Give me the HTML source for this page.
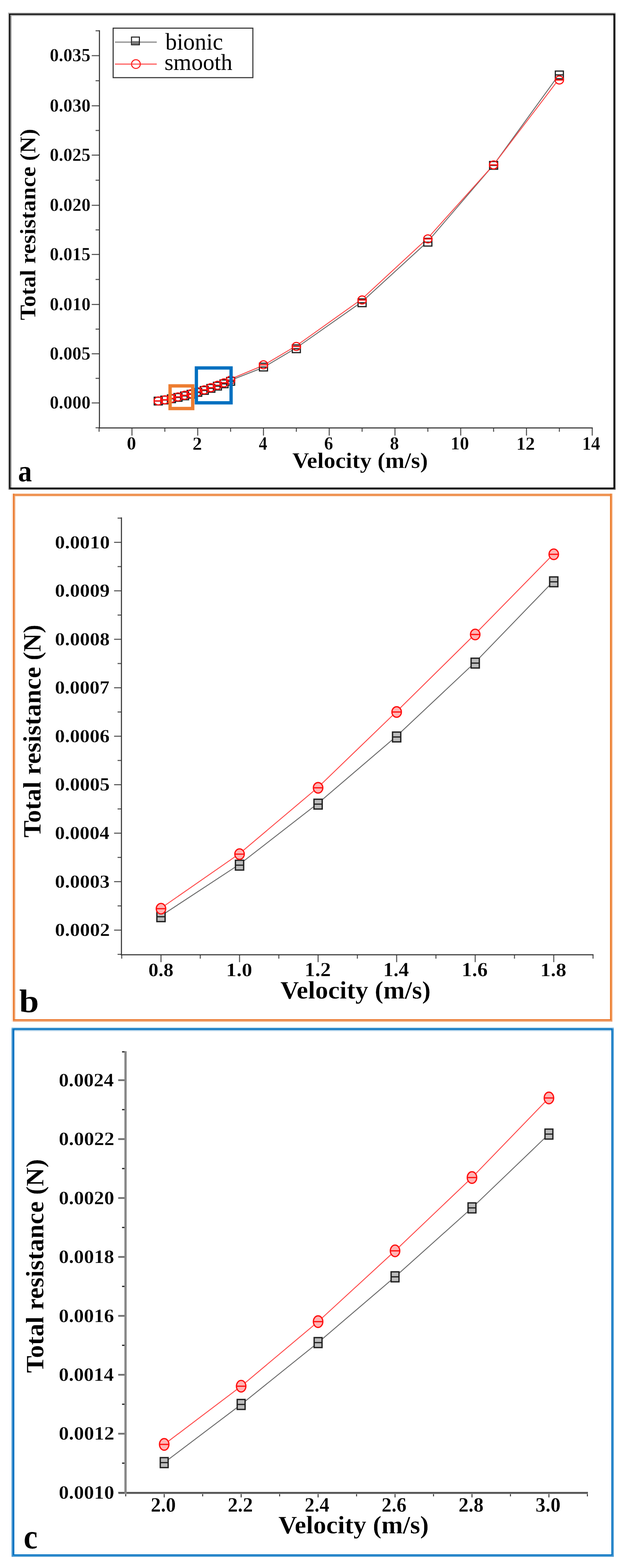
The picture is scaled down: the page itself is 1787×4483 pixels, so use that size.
<!DOCTYPE html>
<html><head><meta charset="utf-8"><title>Total resistance vs velocity</title>
<style>html,body{margin:0;padding:0;background:#fff;}svg{display:block;}</style>
</head><body><svg width="1787" height="4483" viewBox="0 0 1787 4483"><defs><mask id="gap0" maskUnits="userSpaceOnUse" x="0" y="0" width="1787" height="4483"><rect x="0" y="0" width="1787" height="4483" fill="#fff"/><rect x="441.00" y="1135.70" width="23" height="22" fill="#000"/><rect x="459.80" y="1132.69" width="23" height="22" fill="#000"/><rect x="478.60" y="1129.13" width="23" height="22" fill="#000"/><rect x="497.40" y="1125.21" width="23" height="22" fill="#000"/><rect x="516.20" y="1120.89" width="23" height="22" fill="#000"/><rect x="535.00" y="1116.15" width="23" height="22" fill="#000"/><rect x="553.80" y="1110.93" width="23" height="22" fill="#000"/><rect x="572.60" y="1105.33" width="23" height="22" fill="#000"/><rect x="591.40" y="1099.38" width="23" height="22" fill="#000"/><rect x="610.20" y="1093.04" width="23" height="22" fill="#000"/><rect x="629.00" y="1086.40" width="23" height="22" fill="#000"/><rect x="647.80" y="1079.29" width="23" height="22" fill="#000"/><rect x="741.80" y="1038.50" width="23" height="22" fill="#000"/><rect x="835.80" y="986.20" width="23" height="22" fill="#000"/><rect x="1023.80" y="854.70" width="23" height="22" fill="#000"/><rect x="1211.80" y="681.50" width="23" height="22" fill="#000"/><rect x="1399.80" y="461.80" width="23" height="22" fill="#000"/><rect x="1587.80" y="203.20" width="23" height="22" fill="#000"/><ellipse cx="452.50" cy="1146.23" rx="12" ry="11.5" fill="#000"/><ellipse cx="471.30" cy="1143.05" rx="12" ry="11.5" fill="#000"/><ellipse cx="490.10" cy="1139.17" rx="12" ry="11.5" fill="#000"/><ellipse cx="508.90" cy="1134.75" rx="12" ry="11.5" fill="#000"/><ellipse cx="527.70" cy="1130.22" rx="12" ry="11.5" fill="#000"/><ellipse cx="546.50" cy="1125.54" rx="12" ry="11.5" fill="#000"/><ellipse cx="565.30" cy="1120.18" rx="12" ry="11.5" fill="#000"/><ellipse cx="584.10" cy="1114.58" rx="12" ry="11.5" fill="#000"/><ellipse cx="602.90" cy="1108.36" rx="12" ry="11.5" fill="#000"/><ellipse cx="621.70" cy="1101.54" rx="12" ry="11.5" fill="#000"/><ellipse cx="640.50" cy="1094.48" rx="12" ry="11.5" fill="#000"/><ellipse cx="659.30" cy="1086.82" rx="12" ry="11.5" fill="#000"/><ellipse cx="753.30" cy="1043.00" rx="12" ry="11.5" fill="#000"/><ellipse cx="847.30" cy="990.50" rx="12" ry="11.5" fill="#000"/><ellipse cx="1035.30" cy="857.70" rx="12" ry="11.5" fill="#000"/><ellipse cx="1223.30" cy="683.00" rx="12" ry="11.5" fill="#000"/><ellipse cx="1411.30" cy="471.50" rx="12" ry="11.5" fill="#000"/><ellipse cx="1599.30" cy="228.70" rx="12" ry="11.5" fill="#000"/></mask><mask id="gap1" maskUnits="userSpaceOnUse" x="0" y="0" width="1787" height="4483"><rect x="0" y="0" width="1787" height="4483" fill="#fff"/><rect x="448.55" y="2606.95" width="23.5" height="28" fill="#000"/><rect x="673.15" y="2459.55" width="23.5" height="28" fill="#000"/><rect x="897.75" y="2285.05" width="23.5" height="28" fill="#000"/><rect x="1122.35" y="2093.05" width="23.5" height="28" fill="#000"/><rect x="1346.95" y="1881.87" width="23.5" height="28" fill="#000"/><rect x="1571.55" y="1649.44" width="23.5" height="28" fill="#000"/><ellipse cx="460.30" cy="2598.03" rx="13.5" ry="15" fill="#000"/><ellipse cx="684.90" cy="2442.01" rx="13.5" ry="15" fill="#000"/><ellipse cx="909.50" cy="2252.37" rx="13.5" ry="15" fill="#000"/><ellipse cx="1134.10" cy="2035.64" rx="13.5" ry="15" fill="#000"/><ellipse cx="1358.70" cy="1814.04" rx="13.5" ry="15" fill="#000"/><ellipse cx="1583.30" cy="1584.81" rx="13.5" ry="15" fill="#000"/></mask><mask id="gap2" maskUnits="userSpaceOnUse" x="0" y="0" width="1787" height="4483"><rect x="0" y="0" width="1787" height="4483" fill="#fff"/><rect x="458.25" y="4167.42" width="22.5" height="28.5" fill="#000"/><rect x="678.25" y="4001.15" width="22.5" height="28.5" fill="#000"/><rect x="898.25" y="3824.27" width="22.5" height="28.5" fill="#000"/><rect x="1118.25" y="3636.27" width="22.5" height="28.5" fill="#000"/><rect x="1338.25" y="3439.17" width="22.5" height="28.5" fill="#000"/><rect x="1558.25" y="3228.17" width="22.5" height="28.5" fill="#000"/><ellipse cx="469.50" cy="4129.62" rx="13.5" ry="16.5" fill="#000"/><ellipse cx="689.50" cy="3963.26" rx="13.5" ry="16.5" fill="#000"/><ellipse cx="909.50" cy="3778.63" rx="13.5" ry="16.5" fill="#000"/><ellipse cx="1129.50" cy="3576.22" rx="13.5" ry="16.5" fill="#000"/><ellipse cx="1349.50" cy="3366.66" rx="13.5" ry="16.5" fill="#000"/><ellipse cx="1569.50" cy="3139.15" rx="13.5" ry="16.5" fill="#000"/></mask></defs><rect x="23" y="36" width="1737" height="3" fill="#b4b4b4"/><rect x="23" y="36" width="3" height="1364" fill="#b4b4b4"/><rect x="26" y="39" width="1731" height="3" fill="#000"/><rect x="26" y="39" width="3.6" height="1358" fill="#000"/><rect x="1754" y="39" width="3" height="1358" fill="#000"/><rect x="26" y="1394" width="1731" height="3" fill="#000"/><rect x="29.6" y="42" width="1724.4" height="3.4" fill="#9a9a9a"/><rect x="29.6" y="42" width="3.4" height="1352" fill="#9a9a9a"/><rect x="1757" y="39" width="3" height="1361" fill="#474747"/><rect x="26" y="1397" width="1734" height="3" fill="#474747"/><rect x="33" y="1411.5" width="4" height="1509.5" fill="#fcebe0"/><rect x="37" y="1411.5" width="1714" height="7" fill="#ef9352"/><rect x="37" y="1411.5" width="4" height="1509.5" fill="#eb7a2e"/><rect x="41" y="1418.5" width="3" height="1495.5" fill="#f2b68c"/><rect x="1744" y="1411.5" width="4" height="1506" fill="#ed8133"/><rect x="1748" y="1411.5" width="3" height="1509.5" fill="#f0a26c"/><rect x="37" y="2914" width="1711" height="3.5" fill="#ea7327"/><rect x="37" y="2917.5" width="1714" height="3.5" fill="#f0a06c"/><rect x="33" y="2937" width="1722" height="3" fill="#b3d3eb"/><rect x="33" y="2940" width="4" height="1511" fill="#4898d2"/><rect x="37" y="2940" width="1714" height="4" fill="#0070c0"/><rect x="41" y="2944" width="1707" height="3.6" fill="#98c4e4"/><rect x="37" y="2940" width="4" height="1507" fill="#0070c0"/><rect x="1748" y="2940" width="3" height="1507" fill="#0070c0"/><rect x="1751" y="2940" width="4" height="1511" fill="#4898d2"/><rect x="37" y="4444" width="1714" height="3" fill="#0070c0"/><rect x="33" y="4447" width="1722" height="4" fill="#4898d2"/><line x1="283.30" y1="1223.40" x2="283.30" y2="1234.40" stroke="#555" stroke-width="3"/><line x1="377.30" y1="1223.40" x2="377.30" y2="1245.40" stroke="#555" stroke-width="3"/><line x1="471.30" y1="1223.40" x2="471.30" y2="1234.40" stroke="#555" stroke-width="3"/><line x1="565.30" y1="1223.40" x2="565.30" y2="1245.40" stroke="#555" stroke-width="3"/><line x1="659.30" y1="1223.40" x2="659.30" y2="1234.40" stroke="#555" stroke-width="3"/><line x1="753.30" y1="1223.40" x2="753.30" y2="1245.40" stroke="#555" stroke-width="3"/><line x1="847.30" y1="1223.40" x2="847.30" y2="1234.40" stroke="#555" stroke-width="3"/><line x1="941.30" y1="1223.40" x2="941.30" y2="1245.40" stroke="#555" stroke-width="3"/><line x1="1035.30" y1="1223.40" x2="1035.30" y2="1234.40" stroke="#555" stroke-width="3"/><line x1="1129.30" y1="1223.40" x2="1129.30" y2="1245.40" stroke="#555" stroke-width="3"/><line x1="1223.30" y1="1223.40" x2="1223.30" y2="1234.40" stroke="#555" stroke-width="3"/><line x1="1317.30" y1="1223.40" x2="1317.30" y2="1245.40" stroke="#555" stroke-width="3"/><line x1="1411.30" y1="1223.40" x2="1411.30" y2="1234.40" stroke="#555" stroke-width="3"/><line x1="1505.30" y1="1223.40" x2="1505.30" y2="1245.40" stroke="#555" stroke-width="3"/><line x1="1599.30" y1="1223.40" x2="1599.30" y2="1234.40" stroke="#555" stroke-width="3"/><line x1="1693.30" y1="1223.40" x2="1693.30" y2="1245.40" stroke="#555" stroke-width="3"/><line x1="273.30" y1="1223.00" x2="284.30" y2="1223.00" stroke="#555" stroke-width="3"/><line x1="262.30" y1="1152.00" x2="284.30" y2="1152.00" stroke="#555" stroke-width="3"/><line x1="273.30" y1="1081.75" x2="284.30" y2="1081.75" stroke="#555" stroke-width="3"/><line x1="262.30" y1="1011.50" x2="284.30" y2="1011.50" stroke="#555" stroke-width="3"/><line x1="273.30" y1="941.00" x2="284.30" y2="941.00" stroke="#555" stroke-width="3"/><line x1="262.30" y1="870.50" x2="284.30" y2="870.50" stroke="#555" stroke-width="3"/><line x1="273.30" y1="799.00" x2="284.30" y2="799.00" stroke="#555" stroke-width="3"/><line x1="262.30" y1="727.50" x2="284.30" y2="727.50" stroke="#555" stroke-width="3"/><line x1="273.30" y1="657.25" x2="284.30" y2="657.25" stroke="#555" stroke-width="3"/><line x1="262.30" y1="587.00" x2="284.30" y2="587.00" stroke="#555" stroke-width="3"/><line x1="273.30" y1="515.25" x2="284.30" y2="515.25" stroke="#555" stroke-width="3"/><line x1="262.30" y1="443.50" x2="284.30" y2="443.50" stroke="#555" stroke-width="3"/><line x1="273.30" y1="373.00" x2="284.30" y2="373.00" stroke="#555" stroke-width="3"/><line x1="262.30" y1="302.50" x2="284.30" y2="302.50" stroke="#555" stroke-width="3"/><line x1="273.30" y1="230.80" x2="284.30" y2="230.80" stroke="#555" stroke-width="3"/><line x1="262.30" y1="159.10" x2="284.30" y2="159.10" stroke="#555" stroke-width="3"/><line x1="273.30" y1="88.00" x2="284.30" y2="88.00" stroke="#555" stroke-width="3"/><line x1="284.30" y1="86.50" x2="284.30" y2="1224.90" stroke="#333" stroke-width="3"/><line x1="282.80" y1="1223.40" x2="1694.80" y2="1223.40" stroke="#333" stroke-width="3"/><line x1="348.00" y1="2729.80" x2="348.00" y2="2740.80" stroke="#555" stroke-width="3"/><line x1="460.30" y1="2729.80" x2="460.30" y2="2750.80" stroke="#555" stroke-width="3"/><line x1="572.60" y1="2729.80" x2="572.60" y2="2740.80" stroke="#555" stroke-width="3"/><line x1="684.90" y1="2729.80" x2="684.90" y2="2750.80" stroke="#555" stroke-width="3"/><line x1="797.20" y1="2729.80" x2="797.20" y2="2740.80" stroke="#555" stroke-width="3"/><line x1="909.50" y1="2729.80" x2="909.50" y2="2750.80" stroke="#555" stroke-width="3"/><line x1="1021.80" y1="2729.80" x2="1021.80" y2="2740.80" stroke="#555" stroke-width="3"/><line x1="1134.10" y1="2729.80" x2="1134.10" y2="2750.80" stroke="#555" stroke-width="3"/><line x1="1246.40" y1="2729.80" x2="1246.40" y2="2740.80" stroke="#555" stroke-width="3"/><line x1="1358.70" y1="2729.80" x2="1358.70" y2="2750.80" stroke="#555" stroke-width="3"/><line x1="1471.00" y1="2729.80" x2="1471.00" y2="2740.80" stroke="#555" stroke-width="3"/><line x1="1583.30" y1="2729.80" x2="1583.30" y2="2750.80" stroke="#555" stroke-width="3"/><line x1="1695.60" y1="2729.80" x2="1695.60" y2="2740.80" stroke="#555" stroke-width="3"/><line x1="336.20" y1="2728.57" x2="347.20" y2="2728.57" stroke="#555" stroke-width="3"/><line x1="326.20" y1="2659.28" x2="347.20" y2="2659.28" stroke="#555" stroke-width="3"/><line x1="336.20" y1="2589.99" x2="347.20" y2="2589.99" stroke="#555" stroke-width="3"/><line x1="326.20" y1="2520.69" x2="347.20" y2="2520.69" stroke="#555" stroke-width="3"/><line x1="336.20" y1="2451.40" x2="347.20" y2="2451.40" stroke="#555" stroke-width="3"/><line x1="326.20" y1="2382.11" x2="347.20" y2="2382.11" stroke="#555" stroke-width="3"/><line x1="336.20" y1="2312.82" x2="347.20" y2="2312.82" stroke="#555" stroke-width="3"/><line x1="326.20" y1="2243.53" x2="347.20" y2="2243.53" stroke="#555" stroke-width="3"/><line x1="336.20" y1="2174.23" x2="347.20" y2="2174.23" stroke="#555" stroke-width="3"/><line x1="326.20" y1="2104.94" x2="347.20" y2="2104.94" stroke="#555" stroke-width="3"/><line x1="336.20" y1="2035.65" x2="347.20" y2="2035.65" stroke="#555" stroke-width="3"/><line x1="326.20" y1="1966.36" x2="347.20" y2="1966.36" stroke="#555" stroke-width="3"/><line x1="336.20" y1="1897.06" x2="347.20" y2="1897.06" stroke="#555" stroke-width="3"/><line x1="326.20" y1="1827.77" x2="347.20" y2="1827.77" stroke="#555" stroke-width="3"/><line x1="336.20" y1="1758.48" x2="347.20" y2="1758.48" stroke="#555" stroke-width="3"/><line x1="326.20" y1="1689.18" x2="347.20" y2="1689.18" stroke="#555" stroke-width="3"/><line x1="336.20" y1="1619.89" x2="347.20" y2="1619.89" stroke="#555" stroke-width="3"/><line x1="326.20" y1="1550.60" x2="347.20" y2="1550.60" stroke="#555" stroke-width="3"/><line x1="336.20" y1="1481.31" x2="347.20" y2="1481.31" stroke="#555" stroke-width="3"/><line x1="347.20" y1="1479.30" x2="347.20" y2="2731.30" stroke="#333" stroke-width="3"/><line x1="345.70" y1="2729.80" x2="1697.10" y2="2729.80" stroke="#333" stroke-width="3"/><line x1="359.50" y1="4268.20" x2="359.50" y2="4278.20" stroke="#444" stroke-width="3"/><line x1="469.50" y1="4268.20" x2="469.50" y2="4281.20" stroke="#444" stroke-width="3"/><line x1="579.50" y1="4268.20" x2="579.50" y2="4278.20" stroke="#444" stroke-width="3"/><line x1="689.50" y1="4268.20" x2="689.50" y2="4281.20" stroke="#444" stroke-width="3"/><line x1="799.50" y1="4268.20" x2="799.50" y2="4278.20" stroke="#444" stroke-width="3"/><line x1="909.50" y1="4268.20" x2="909.50" y2="4281.20" stroke="#444" stroke-width="3"/><line x1="1019.50" y1="4268.20" x2="1019.50" y2="4278.20" stroke="#444" stroke-width="3"/><line x1="1129.50" y1="4268.20" x2="1129.50" y2="4281.20" stroke="#444" stroke-width="3"/><line x1="1239.50" y1="4268.20" x2="1239.50" y2="4278.20" stroke="#444" stroke-width="3"/><line x1="1349.50" y1="4268.20" x2="1349.50" y2="4281.20" stroke="#444" stroke-width="3"/><line x1="1459.50" y1="4268.20" x2="1459.50" y2="4278.20" stroke="#444" stroke-width="3"/><line x1="1569.50" y1="4268.20" x2="1569.50" y2="4281.20" stroke="#444" stroke-width="3"/><line x1="1679.50" y1="4268.20" x2="1679.50" y2="4278.20" stroke="#444" stroke-width="3"/><line x1="337.90" y1="4267.50" x2="358.90" y2="4267.50" stroke="#707070" stroke-width="5"/><line x1="348.90" y1="4183.27" x2="358.90" y2="4183.27" stroke="#222" stroke-width="3.5"/><line x1="337.90" y1="4099.04" x2="358.90" y2="4099.04" stroke="#707070" stroke-width="5"/><line x1="348.90" y1="4014.81" x2="358.90" y2="4014.81" stroke="#222" stroke-width="3.5"/><line x1="337.90" y1="3930.58" x2="358.90" y2="3930.58" stroke="#707070" stroke-width="5"/><line x1="348.90" y1="3846.35" x2="358.90" y2="3846.35" stroke="#222" stroke-width="3.5"/><line x1="337.90" y1="3762.12" x2="358.90" y2="3762.12" stroke="#707070" stroke-width="5"/><line x1="348.90" y1="3677.89" x2="358.90" y2="3677.89" stroke="#222" stroke-width="3.5"/><line x1="337.90" y1="3593.66" x2="358.90" y2="3593.66" stroke="#707070" stroke-width="5"/><line x1="348.90" y1="3509.43" x2="358.90" y2="3509.43" stroke="#222" stroke-width="3.5"/><line x1="337.90" y1="3425.20" x2="358.90" y2="3425.20" stroke="#707070" stroke-width="5"/><line x1="348.90" y1="3340.97" x2="358.90" y2="3340.97" stroke="#222" stroke-width="3.5"/><line x1="337.90" y1="3256.74" x2="358.90" y2="3256.74" stroke="#707070" stroke-width="5"/><line x1="348.90" y1="3172.51" x2="358.90" y2="3172.51" stroke="#222" stroke-width="3.5"/><line x1="337.90" y1="3088.28" x2="358.90" y2="3088.28" stroke="#707070" stroke-width="5"/><line x1="348.90" y1="3007.30" x2="358.90" y2="3007.30" stroke="#222" stroke-width="3.5"/><line x1="338.90" y1="4268.20" x2="1681.00" y2="4268.20" stroke="#aaa" stroke-width="7"/><line x1="338.90" y1="4268.20" x2="1681.00" y2="4268.20" stroke="#333" stroke-width="3"/><line x1="358.90" y1="3005.50" x2="358.90" y2="4269.70" stroke="#878787" stroke-width="6.5"/><g mask="url(#gap0)"><polyline points="452.50,1143.70 471.30,1140.69 490.10,1137.13 508.90,1133.21 527.70,1128.89 546.50,1124.15 565.30,1118.93 584.10,1113.33 602.90,1107.38 621.70,1101.04 640.50,1094.40 659.30,1087.29 753.30,1050.50 847.30,994.50 1035.30,862.50 1223.30,690.30 1411.30,471.20 1599.30,212.00" fill="none" stroke="#6a6a6a" stroke-width="2.6"/><polyline points="452.50,1143.23 471.30,1140.05 490.10,1136.17 508.90,1131.75 527.70,1127.22 546.50,1122.54 565.30,1117.18 584.10,1111.58 602.90,1105.36 621.70,1098.54 640.50,1091.48 659.30,1083.82 753.30,1044.50 847.30,988.50 1035.30,854.50 1223.30,680.50 1411.30,471.20 1599.30,224.50" fill="none" stroke="#ff4848" stroke-width="2.6"/></g><rect x="441.00" y="1135.70" width="23" height="22" fill="none" stroke="#222" stroke-width="3.4"/><line x1="441.00" y1="1146.70" x2="464.00" y2="1146.70" stroke="#222" stroke-width="3.5"/><rect x="459.80" y="1132.69" width="23" height="22" fill="none" stroke="#222" stroke-width="3.4"/><line x1="459.80" y1="1143.69" x2="482.80" y2="1143.69" stroke="#222" stroke-width="3.5"/><rect x="478.60" y="1129.13" width="23" height="22" fill="none" stroke="#222" stroke-width="3.4"/><line x1="478.60" y1="1140.13" x2="501.60" y2="1140.13" stroke="#222" stroke-width="3.5"/><rect x="497.40" y="1125.21" width="23" height="22" fill="none" stroke="#222" stroke-width="3.4"/><line x1="497.40" y1="1136.21" x2="520.40" y2="1136.21" stroke="#222" stroke-width="3.5"/><rect x="516.20" y="1120.89" width="23" height="22" fill="none" stroke="#222" stroke-width="3.4"/><line x1="516.20" y1="1131.89" x2="539.20" y2="1131.89" stroke="#222" stroke-width="3.5"/><rect x="535.00" y="1116.15" width="23" height="22" fill="none" stroke="#222" stroke-width="3.4"/><line x1="535.00" y1="1127.15" x2="558.00" y2="1127.15" stroke="#222" stroke-width="3.5"/><rect x="553.80" y="1110.93" width="23" height="22" fill="none" stroke="#222" stroke-width="3.4"/><line x1="553.80" y1="1121.93" x2="576.80" y2="1121.93" stroke="#222" stroke-width="3.5"/><rect x="572.60" y="1105.33" width="23" height="22" fill="none" stroke="#222" stroke-width="3.4"/><line x1="572.60" y1="1116.33" x2="595.60" y2="1116.33" stroke="#222" stroke-width="3.5"/><rect x="591.40" y="1099.38" width="23" height="22" fill="none" stroke="#222" stroke-width="3.4"/><line x1="591.40" y1="1110.38" x2="614.40" y2="1110.38" stroke="#222" stroke-width="3.5"/><rect x="610.20" y="1093.04" width="23" height="22" fill="none" stroke="#222" stroke-width="3.4"/><line x1="610.20" y1="1104.04" x2="633.20" y2="1104.04" stroke="#222" stroke-width="3.5"/><rect x="629.00" y="1086.40" width="23" height="22" fill="none" stroke="#222" stroke-width="3.4"/><line x1="629.00" y1="1097.40" x2="652.00" y2="1097.40" stroke="#222" stroke-width="3.5"/><rect x="647.80" y="1079.29" width="23" height="22" fill="none" stroke="#222" stroke-width="3.4"/><line x1="647.80" y1="1090.29" x2="670.80" y2="1090.29" stroke="#222" stroke-width="3.5"/><rect x="741.80" y="1038.50" width="23" height="22" fill="none" stroke="#222" stroke-width="3.4"/><line x1="741.80" y1="1049.50" x2="764.80" y2="1049.50" stroke="#222" stroke-width="3.5"/><rect x="835.80" y="986.20" width="23" height="22" fill="none" stroke="#222" stroke-width="3.4"/><line x1="835.80" y1="997.20" x2="858.80" y2="997.20" stroke="#222" stroke-width="3.5"/><rect x="1023.80" y="854.70" width="23" height="22" fill="none" stroke="#222" stroke-width="3.4"/><line x1="1023.80" y1="865.70" x2="1046.80" y2="865.70" stroke="#222" stroke-width="3.5"/><rect x="1211.80" y="681.50" width="23" height="22" fill="none" stroke="#222" stroke-width="3.4"/><line x1="1211.80" y1="692.50" x2="1234.80" y2="692.50" stroke="#222" stroke-width="3.5"/><rect x="1399.80" y="461.80" width="23" height="22" fill="none" stroke="#222" stroke-width="3.4"/><line x1="1399.80" y1="472.80" x2="1422.80" y2="472.80" stroke="#222" stroke-width="3.5"/><rect x="1587.80" y="203.20" width="23" height="22" fill="none" stroke="#222" stroke-width="3.4"/><line x1="1587.80" y1="214.20" x2="1610.80" y2="214.20" stroke="#222" stroke-width="3.5"/><ellipse cx="452.50" cy="1146.23" rx="12" ry="11.5" fill="none" stroke="#ff1010" stroke-width="3.2"/><line x1="440.50" y1="1146.23" x2="464.50" y2="1146.23" stroke="#ff1010" stroke-width="3.5"/><ellipse cx="471.30" cy="1143.05" rx="12" ry="11.5" fill="none" stroke="#ff1010" stroke-width="3.2"/><line x1="459.30" y1="1143.05" x2="483.30" y2="1143.05" stroke="#ff1010" stroke-width="3.5"/><ellipse cx="490.10" cy="1139.17" rx="12" ry="11.5" fill="none" stroke="#ff1010" stroke-width="3.2"/><line x1="478.10" y1="1139.17" x2="502.10" y2="1139.17" stroke="#ff1010" stroke-width="3.5"/><ellipse cx="508.90" cy="1134.75" rx="12" ry="11.5" fill="none" stroke="#ff1010" stroke-width="3.2"/><line x1="496.90" y1="1134.75" x2="520.90" y2="1134.75" stroke="#ff1010" stroke-width="3.5"/><ellipse cx="527.70" cy="1130.22" rx="12" ry="11.5" fill="none" stroke="#ff1010" stroke-width="3.2"/><line x1="515.70" y1="1130.22" x2="539.70" y2="1130.22" stroke="#ff1010" stroke-width="3.5"/><ellipse cx="546.50" cy="1125.54" rx="12" ry="11.5" fill="none" stroke="#ff1010" stroke-width="3.2"/><line x1="534.50" y1="1125.54" x2="558.50" y2="1125.54" stroke="#ff1010" stroke-width="3.5"/><ellipse cx="565.30" cy="1120.18" rx="12" ry="11.5" fill="none" stroke="#ff1010" stroke-width="3.2"/><line x1="553.30" y1="1120.18" x2="577.30" y2="1120.18" stroke="#ff1010" stroke-width="3.5"/><ellipse cx="584.10" cy="1114.58" rx="12" ry="11.5" fill="none" stroke="#ff1010" stroke-width="3.2"/><line x1="572.10" y1="1114.58" x2="596.10" y2="1114.58" stroke="#ff1010" stroke-width="3.5"/><ellipse cx="602.90" cy="1108.36" rx="12" ry="11.5" fill="none" stroke="#ff1010" stroke-width="3.2"/><line x1="590.90" y1="1108.36" x2="614.90" y2="1108.36" stroke="#ff1010" stroke-width="3.5"/><ellipse cx="621.70" cy="1101.54" rx="12" ry="11.5" fill="none" stroke="#ff1010" stroke-width="3.2"/><line x1="609.70" y1="1101.54" x2="633.70" y2="1101.54" stroke="#ff1010" stroke-width="3.5"/><ellipse cx="640.50" cy="1094.48" rx="12" ry="11.5" fill="none" stroke="#ff1010" stroke-width="3.2"/><line x1="628.50" y1="1094.48" x2="652.50" y2="1094.48" stroke="#ff1010" stroke-width="3.5"/><ellipse cx="659.30" cy="1086.82" rx="12" ry="11.5" fill="none" stroke="#ff1010" stroke-width="3.2"/><line x1="647.30" y1="1086.82" x2="671.30" y2="1086.82" stroke="#ff1010" stroke-width="3.5"/><ellipse cx="753.30" cy="1043.00" rx="12" ry="11.5" fill="none" stroke="#ff1010" stroke-width="3.2"/><line x1="741.30" y1="1043.00" x2="765.30" y2="1043.00" stroke="#ff1010" stroke-width="3.5"/><ellipse cx="847.30" cy="990.50" rx="12" ry="11.5" fill="none" stroke="#ff1010" stroke-width="3.2"/><line x1="835.30" y1="990.50" x2="859.30" y2="990.50" stroke="#ff1010" stroke-width="3.5"/><ellipse cx="1035.30" cy="857.70" rx="12" ry="11.5" fill="none" stroke="#ff1010" stroke-width="3.2"/><line x1="1023.30" y1="857.70" x2="1047.30" y2="857.70" stroke="#ff1010" stroke-width="3.5"/><ellipse cx="1223.30" cy="683.00" rx="12" ry="11.5" fill="none" stroke="#ff1010" stroke-width="3.2"/><line x1="1211.30" y1="683.00" x2="1235.30" y2="683.00" stroke="#ff1010" stroke-width="3.5"/><ellipse cx="1411.30" cy="471.50" rx="12" ry="11.5" fill="none" stroke="#ff1010" stroke-width="3.2"/><line x1="1399.30" y1="471.50" x2="1423.30" y2="471.50" stroke="#ff1010" stroke-width="3.5"/><ellipse cx="1599.30" cy="228.70" rx="12" ry="11.5" fill="none" stroke="#ff1010" stroke-width="3.2"/><line x1="1587.30" y1="228.70" x2="1611.30" y2="228.70" stroke="#ff1010" stroke-width="3.5"/><g mask="url(#gap1)"><polyline points="460.30,2618.45 684.90,2471.05 909.50,2296.55 1134.10,2104.55 1358.70,1893.37 1583.30,1660.94" fill="none" stroke="#6a6a6a" stroke-width="2.6"/><polyline points="460.30,2596.53 684.90,2440.51 909.50,2250.87 1134.10,2034.14 1358.70,1812.54 1583.30,1583.31" fill="none" stroke="#ff4848" stroke-width="2.6"/></g><rect x="448.55" y="2606.95" width="23.5" height="28" fill="#bdbdbd" stroke="#222" stroke-width="3.8"/><line x1="448.55" y1="2620.95" x2="472.05" y2="2620.95" stroke="#222" stroke-width="3.5"/><rect x="673.15" y="2459.55" width="23.5" height="28" fill="#bdbdbd" stroke="#222" stroke-width="3.8"/><line x1="673.15" y1="2473.55" x2="696.65" y2="2473.55" stroke="#222" stroke-width="3.5"/><rect x="897.75" y="2285.05" width="23.5" height="28" fill="#bdbdbd" stroke="#222" stroke-width="3.8"/><line x1="897.75" y1="2299.05" x2="921.25" y2="2299.05" stroke="#222" stroke-width="3.5"/><rect x="1122.35" y="2093.05" width="23.5" height="28" fill="#bdbdbd" stroke="#222" stroke-width="3.8"/><line x1="1122.35" y1="2107.05" x2="1145.85" y2="2107.05" stroke="#222" stroke-width="3.5"/><rect x="1346.95" y="1881.87" width="23.5" height="28" fill="#bdbdbd" stroke="#222" stroke-width="3.8"/><line x1="1346.95" y1="1895.87" x2="1370.45" y2="1895.87" stroke="#222" stroke-width="3.5"/><rect x="1571.55" y="1649.44" width="23.5" height="28" fill="#bdbdbd" stroke="#222" stroke-width="3.8"/><line x1="1571.55" y1="1663.44" x2="1595.05" y2="1663.44" stroke="#222" stroke-width="3.5"/><ellipse cx="460.30" cy="2598.03" rx="13.5" ry="15" fill="#ffb4b4" stroke="#ff1010" stroke-width="3.6"/><line x1="446.80" y1="2598.03" x2="473.80" y2="2598.03" stroke="#ff1010" stroke-width="3.5"/><ellipse cx="684.90" cy="2442.01" rx="13.5" ry="15" fill="#ffb4b4" stroke="#ff1010" stroke-width="3.6"/><line x1="671.40" y1="2442.01" x2="698.40" y2="2442.01" stroke="#ff1010" stroke-width="3.5"/><ellipse cx="909.50" cy="2252.37" rx="13.5" ry="15" fill="#ffb4b4" stroke="#ff1010" stroke-width="3.6"/><line x1="896.00" y1="2252.37" x2="923.00" y2="2252.37" stroke="#ff1010" stroke-width="3.5"/><ellipse cx="1134.10" cy="2035.64" rx="13.5" ry="15" fill="#ffb4b4" stroke="#ff1010" stroke-width="3.6"/><line x1="1120.60" y1="2035.64" x2="1147.60" y2="2035.64" stroke="#ff1010" stroke-width="3.5"/><ellipse cx="1358.70" cy="1814.04" rx="13.5" ry="15" fill="#ffb4b4" stroke="#ff1010" stroke-width="3.6"/><line x1="1345.20" y1="1814.04" x2="1372.20" y2="1814.04" stroke="#ff1010" stroke-width="3.5"/><ellipse cx="1583.30" cy="1584.81" rx="13.5" ry="15" fill="#ffb4b4" stroke="#ff1010" stroke-width="3.6"/><line x1="1569.80" y1="1584.81" x2="1596.80" y2="1584.81" stroke="#ff1010" stroke-width="3.5"/><g mask="url(#gap2)"><polyline points="469.50,4181.67 689.50,4015.40 909.50,3838.52 1129.50,3650.52 1349.50,3453.42 1569.50,3242.42" fill="none" stroke="#6a6a6a" stroke-width="2.6"/><polyline points="469.50,4129.62 689.50,3963.26 909.50,3778.63 1129.50,3576.22 1349.50,3366.66 1569.50,3139.15" fill="none" stroke="#ff4848" stroke-width="2.6"/></g><rect x="458.25" y="4167.42" width="22.5" height="28.5" fill="#bdbdbd" stroke="#222" stroke-width="3.8"/><line x1="458.25" y1="4181.67" x2="480.75" y2="4181.67" stroke="#222" stroke-width="3.5"/><rect x="678.25" y="4001.15" width="22.5" height="28.5" fill="#bdbdbd" stroke="#222" stroke-width="3.8"/><line x1="678.25" y1="4015.40" x2="700.75" y2="4015.40" stroke="#222" stroke-width="3.5"/><rect x="898.25" y="3824.27" width="22.5" height="28.5" fill="#bdbdbd" stroke="#222" stroke-width="3.8"/><line x1="898.25" y1="3838.52" x2="920.75" y2="3838.52" stroke="#222" stroke-width="3.5"/><rect x="1118.25" y="3636.27" width="22.5" height="28.5" fill="#bdbdbd" stroke="#222" stroke-width="3.8"/><line x1="1118.25" y1="3650.52" x2="1140.75" y2="3650.52" stroke="#222" stroke-width="3.5"/><rect x="1338.25" y="3439.17" width="22.5" height="28.5" fill="#bdbdbd" stroke="#222" stroke-width="3.8"/><line x1="1338.25" y1="3453.42" x2="1360.75" y2="3453.42" stroke="#222" stroke-width="3.5"/><rect x="1558.25" y="3228.17" width="22.5" height="28.5" fill="#bdbdbd" stroke="#222" stroke-width="3.8"/><line x1="1558.25" y1="3242.42" x2="1580.75" y2="3242.42" stroke="#222" stroke-width="3.5"/><ellipse cx="469.50" cy="4129.62" rx="13.5" ry="16.5" fill="#ffb4b4" stroke="#ff1010" stroke-width="3.6"/><line x1="456.00" y1="4129.62" x2="483.00" y2="4129.62" stroke="#ff1010" stroke-width="3.5"/><ellipse cx="689.50" cy="3963.26" rx="13.5" ry="16.5" fill="#ffb4b4" stroke="#ff1010" stroke-width="3.6"/><line x1="676.00" y1="3963.26" x2="703.00" y2="3963.26" stroke="#ff1010" stroke-width="3.5"/><ellipse cx="909.50" cy="3778.63" rx="13.5" ry="16.5" fill="#ffb4b4" stroke="#ff1010" stroke-width="3.6"/><line x1="896.00" y1="3778.63" x2="923.00" y2="3778.63" stroke="#ff1010" stroke-width="3.5"/><ellipse cx="1129.50" cy="3576.22" rx="13.5" ry="16.5" fill="#ffb4b4" stroke="#ff1010" stroke-width="3.6"/><line x1="1116.00" y1="3576.22" x2="1143.00" y2="3576.22" stroke="#ff1010" stroke-width="3.5"/><ellipse cx="1349.50" cy="3366.66" rx="13.5" ry="16.5" fill="#ffb4b4" stroke="#ff1010" stroke-width="3.6"/><line x1="1336.00" y1="3366.66" x2="1363.00" y2="3366.66" stroke="#ff1010" stroke-width="3.5"/><ellipse cx="1569.50" cy="3139.15" rx="13.5" ry="16.5" fill="#ffb4b4" stroke="#ff1010" stroke-width="3.6"/><line x1="1556.00" y1="3139.15" x2="1583.00" y2="3139.15" stroke="#ff1010" stroke-width="3.5"/><rect x="486.3" y="1103.3" width="64.7" height="64.7" fill="none" stroke="#ed7d31" stroke-width="9.6"/><rect x="561.5" y="1052" width="99.2" height="99.7" fill="none" stroke="#0070c0" stroke-width="9.4"/><rect x="322" y="79" width="402.5" height="144.5" fill="none"/><rect x="323.5" y="80.5" width="399.5" height="141.5" fill="none" stroke="#333" stroke-width="3"/><line x1="328.70" y1="120.50" x2="448.20" y2="120.50" stroke="#999" stroke-width="4"/><rect x="376" y="106" width="22.5" height="22" fill="#fff" stroke="#222" stroke-width="3"/><rect x="377.5" y="117.5" width="19.5" height="9" fill="#777"/><line x1="328.70" y1="183.20" x2="448.20" y2="183.20" stroke="#ff5050" stroke-width="3"/><ellipse cx="388.6" cy="183.2" rx="12.5" ry="12.5" fill="none" stroke="#ff2020" stroke-width="3"/><g font-family="'Liberation Serif', 'Times New Roman', serif" fill="#000"><text transform="matrix(0.5184 0 0 0.5324 142.18 1168.35)" font-weight="bold" font-size="100" stroke="#fff" stroke-width="0.95" stroke-linejoin="round">0.000</text><text transform="matrix(0.5172 0 0 0.5324 142.18 1027.85)" font-weight="bold" font-size="100" stroke="#fff" stroke-width="0.95" stroke-linejoin="round">0.005</text><text transform="matrix(0.5184 0 0 0.5324 142.18 886.85)" font-weight="bold" font-size="100" stroke="#fff" stroke-width="0.95" stroke-linejoin="round">0.010</text><text transform="matrix(0.5172 0 0 0.5324 142.18 743.85)" font-weight="bold" font-size="100" stroke="#fff" stroke-width="0.95" stroke-linejoin="round">0.015</text><text transform="matrix(0.5184 0 0 0.5324 142.18 603.35)" font-weight="bold" font-size="100" stroke="#fff" stroke-width="0.95" stroke-linejoin="round">0.020</text><text transform="matrix(0.5172 0 0 0.5324 142.18 459.85)" font-weight="bold" font-size="100" stroke="#fff" stroke-width="0.95" stroke-linejoin="round">0.025</text><text transform="matrix(0.5184 0 0 0.5324 142.18 318.85)" font-weight="bold" font-size="100" stroke="#fff" stroke-width="0.95" stroke-linejoin="round">0.030</text><text transform="matrix(0.5172 0 0 0.5324 142.18 175.45)" font-weight="bold" font-size="100" stroke="#fff" stroke-width="0.95" stroke-linejoin="round">0.035</text><text transform="matrix(0.5333 0 0 0.5259 362.47 1285.22)" font-weight="bold" font-size="100" stroke="#fff" stroke-width="0.94" stroke-linejoin="round">0</text><text transform="matrix(0.5398 0 0 0.5379 550.44 1285.75)" font-weight="bold" font-size="100" stroke="#fff" stroke-width="0.93" stroke-linejoin="round">2</text><text transform="matrix(0.4817 0 0 0.5420 739.88 1285.75)" font-weight="bold" font-size="100" stroke="#fff" stroke-width="0.98" stroke-linejoin="round">4</text><text transform="matrix(0.5149 0 0 0.5299 926.80 1285.22)" font-weight="bold" font-size="100" stroke="#fff" stroke-width="0.96" stroke-linejoin="round">6</text><text transform="matrix(0.5209 0 0 0.5259 1114.78 1285.22)" font-weight="bold" font-size="100" stroke="#fff" stroke-width="0.96" stroke-linejoin="round">8</text><text transform="matrix(0.5284 0 0 0.5259 1288.32 1285.22)" font-weight="bold" font-size="100" stroke="#fff" stroke-width="0.95" stroke-linejoin="round">10</text><text transform="matrix(0.5314 0 0 0.5379 1476.30 1285.75)" font-weight="bold" font-size="100" stroke="#fff" stroke-width="0.94" stroke-linejoin="round">12</text><text transform="matrix(0.5167 0 0 0.5420 1664.42 1285.75)" font-weight="bold" font-size="100" stroke="#fff" stroke-width="0.94" stroke-linejoin="round">14</text><text transform="matrix(0.6662 0 0 0.6348 835.63 1338.10)" font-weight="bold" font-size="100" stroke="#fff" stroke-width="0.61" stroke-linejoin="round">Velocity (m/s)</text><text transform="matrix(0 -0.6617 0.6348 0 100.60 915.69)" font-weight="bold" font-size="100" stroke="#fff" stroke-width="0.62" stroke-linejoin="round">Total resistance (N)</text><text transform="matrix(0.6595 0 0 0.6696 472.80 141.80)" font-weight="normal" font-size="100">bionic</text><text transform="matrix(0.6602 0 0 0.6475 470.16 199.60)" font-weight="normal" font-size="100">smooth</text><text transform="matrix(0.7956 0 0 0.8989 51.51 1375.65)" font-weight="bold" font-size="100" stroke="#fff" stroke-width="0.24" stroke-linejoin="round">a</text><text transform="matrix(0.5722 0 0 0.5368 156.96 2676.22)" font-weight="bold" font-size="100" stroke="#fff" stroke-width="0.90" stroke-linejoin="round">0.0002</text><text transform="matrix(0.5701 0 0 0.5368 156.97 2537.64)" font-weight="bold" font-size="100" stroke="#fff" stroke-width="0.90" stroke-linejoin="round">0.0003</text><text transform="matrix(0.5669 0 0 0.5368 156.98 2399.05)" font-weight="bold" font-size="100" stroke="#fff" stroke-width="0.91" stroke-linejoin="round">0.0004</text><text transform="matrix(0.5701 0 0 0.5368 156.97 2260.47)" font-weight="bold" font-size="100" stroke="#fff" stroke-width="0.90" stroke-linejoin="round">0.0005</text><text transform="matrix(0.5690 0 0 0.5368 156.97 2121.88)" font-weight="bold" font-size="100" stroke="#fff" stroke-width="0.90" stroke-linejoin="round">0.0006</text><text transform="matrix(0.5680 0 0 0.5368 156.98 1983.30)" font-weight="bold" font-size="100" stroke="#fff" stroke-width="0.91" stroke-linejoin="round">0.0007</text><text transform="matrix(0.5701 0 0 0.5368 156.97 1844.71)" font-weight="bold" font-size="100" stroke="#fff" stroke-width="0.90" stroke-linejoin="round">0.0008</text><text transform="matrix(0.5701 0 0 0.5368 156.97 1706.13)" font-weight="bold" font-size="100" stroke="#fff" stroke-width="0.90" stroke-linejoin="round">0.0009</text><text transform="matrix(0.5712 0 0 0.5368 156.97 1567.54)" font-weight="bold" font-size="100" stroke="#fff" stroke-width="0.90" stroke-linejoin="round">0.0010</text><text transform="matrix(0.5762 0 0 0.5588 424.15 2791.41)" font-weight="bold" font-size="100" stroke="#fff" stroke-width="0.88" stroke-linejoin="round">0.8</text><text transform="matrix(0.5991 0 0 0.5588 646.26 2791.41)" font-weight="bold" font-size="100" stroke="#fff" stroke-width="0.86" stroke-linejoin="round">1.0</text><text transform="matrix(0.6018 0 0 0.5630 870.84 2791.41)" font-weight="bold" font-size="100" stroke="#fff" stroke-width="0.86" stroke-linejoin="round">1.2</text><text transform="matrix(0.5887 0 0 0.5672 1095.54 2791.40)" font-weight="bold" font-size="100" stroke="#fff" stroke-width="0.87" stroke-linejoin="round">1.4</text><text transform="matrix(0.5939 0 0 0.5630 1320.10 2791.41)" font-weight="bold" font-size="100" stroke="#fff" stroke-width="0.86" stroke-linejoin="round">1.6</text><text transform="matrix(0.5965 0 0 0.5588 1544.68 2791.41)" font-weight="bold" font-size="100" stroke="#fff" stroke-width="0.87" stroke-linejoin="round">1.8</text><text transform="matrix(0.7381 0 0 0.7116 801.56 2855.40)" font-weight="bold" font-size="100" stroke="#fff" stroke-width="0.55" stroke-linejoin="round">Velocity (m/s)</text><text transform="matrix(0 -0.7359 0.7145 0 116.10 2394.80)" font-weight="bold" font-size="100" stroke="#fff" stroke-width="0.55" stroke-linejoin="round">Total resistance (N)</text><text transform="matrix(1.0160 0 0 0.9386 54.68 2893.66)" font-weight="bold" font-size="100" stroke="#fff" stroke-width="0.20" stroke-linejoin="round">b</text><text transform="matrix(0.5768 0 0 0.5588 167.94 4284.91)" font-weight="bold" font-size="100" stroke="#fff" stroke-width="0.88" stroke-linejoin="round">0.0010</text><text transform="matrix(0.5779 0 0 0.5588 167.94 4116.45)" font-weight="bold" font-size="100" stroke="#fff" stroke-width="0.88" stroke-linejoin="round">0.0012</text><text transform="matrix(0.5725 0 0 0.5588 167.96 3947.99)" font-weight="bold" font-size="100" stroke="#fff" stroke-width="0.88" stroke-linejoin="round">0.0014</text><text transform="matrix(0.5746 0 0 0.5588 167.95 3779.53)" font-weight="bold" font-size="100" stroke="#fff" stroke-width="0.88" stroke-linejoin="round">0.0016</text><text transform="matrix(0.5757 0 0 0.5588 167.95 3611.07)" font-weight="bold" font-size="100" stroke="#fff" stroke-width="0.88" stroke-linejoin="round">0.0018</text><text transform="matrix(0.5768 0 0 0.5588 167.94 3442.61)" font-weight="bold" font-size="100" stroke="#fff" stroke-width="0.88" stroke-linejoin="round">0.0020</text><text transform="matrix(0.5779 0 0 0.5588 167.94 3274.15)" font-weight="bold" font-size="100" stroke="#fff" stroke-width="0.88" stroke-linejoin="round">0.0022</text><text transform="matrix(0.5725 0 0 0.5588 167.96 3105.69)" font-weight="bold" font-size="100" stroke="#fff" stroke-width="0.88" stroke-linejoin="round">0.0024</text><text transform="matrix(0.5752 0 0 0.5882 430.95 4321.87)" font-weight="bold" font-size="100" stroke="#fff" stroke-width="0.86" stroke-linejoin="round">2.0</text><text transform="matrix(0.5777 0 0 0.5926 650.94 4321.86)" font-weight="bold" font-size="100" stroke="#fff" stroke-width="0.85" stroke-linejoin="round">2.2</text><text transform="matrix(0.5655 0 0 0.5926 870.99 4321.86)" font-weight="bold" font-size="100" stroke="#fff" stroke-width="0.86" stroke-linejoin="round">2.4</text><text transform="matrix(0.5703 0 0 0.5926 1090.97 4321.86)" font-weight="bold" font-size="100" stroke="#fff" stroke-width="0.86" stroke-linejoin="round">2.6</text><text transform="matrix(0.5728 0 0 0.5882 1310.96 4321.87)" font-weight="bold" font-size="100" stroke="#fff" stroke-width="0.86" stroke-linejoin="round">2.8</text><text transform="matrix(0.5752 0 0 0.5882 1530.95 4321.87)" font-weight="bold" font-size="100" stroke="#fff" stroke-width="0.86" stroke-linejoin="round">3.0</text><text transform="matrix(0.7381 0 0 0.7116 796.06 4384.40)" font-weight="bold" font-size="100" stroke="#fff" stroke-width="0.55" stroke-linejoin="round">Velocity (m/s)</text><text transform="matrix(0 -0.7389 0.7261 0 124.20 3925.31)" font-weight="bold" font-size="100" stroke="#fff" stroke-width="0.55" stroke-linejoin="round">Total resistance (N)</text><text transform="matrix(0.9013 0 0 0.9875 67.45 4426.71)" font-weight="bold" font-size="100" stroke="#fff" stroke-width="0.21" stroke-linejoin="round">c</text></g></svg></body></html>
